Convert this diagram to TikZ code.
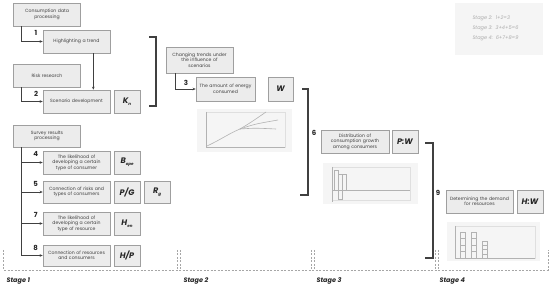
\documentclass[tikz,border=0pt]{standalone}
\usepackage{fontspec}
\setmainfont{Poppins}
\usetikzlibrary{positioning, arrows.meta}

\newcommand{\lsub}[1]{\raisebox{-1.6pt}{\fontsize{4}{4}\selectfont #1}}

\begin{document}
\begin{tikzpicture}[x=1pt, y=-1pt,
    box/.style={draw=gray!75, fill=gray!15, line width=0.6pt, inner sep=1pt, align=center,
        font=\fontsize{4.6}{5.5}\selectfont, text=black!75, minimum height=23pt},
    wbox/.style={box, minimum width=67pt, text width=63pt},
    lbox/.style={box, minimum width=26pt, font=\fontsize{8}{9}\selectfont\bfseries\itshape, text=black!85},
    numlab/.style={font=\fontsize{7}{8}\selectfont\bfseries, text=black!85},
    stagelab/.style={font=\fontsize{6.5}{7}\selectfont\bfseries\itshape, text=black!85, anchor=west},
    legtext/.style={font=\fontsize{5}{10}\selectfont\itshape, text=gray!65, anchor=west, align=left},
    arr/.style={-{Stealth[length=3pt,width=2.6pt]}, line width=0.6pt, draw=black!75},
    brk/.style={line width=1.1pt, draw=black!75},
    panel/.style={fill=gray!8, draw=none},
    plotline/.style={draw=gray!60, line width=0.5pt},
    stagebd/.style={draw=gray!70, line width=0.5pt, dash pattern=on 2pt off 1.5pt}
]
    \useasboundingbox (0,0) rectangle (550,286);

    % Legend
    \fill[panel] (455,3) rectangle (543,55);
    \node[legtext] (leg) at (469,28) {Stage 2:\ \ 1+2=3\\Stage 3:\ \ 3+4+5=6\\Stage 4:\ \ 6+7+8=9};

    % Stage 1
    \node[wbox] (cons) at (47,14.5) {Consumption data\\processing};
    \node[wbox] (trend) at (76.5,41.5) {Highlighting a trend};
    \node[wbox] (risk) at (47,75.5) {Risk research};
    \node[wbox] (scen) at (76.5,101.5) {Scenario development};
    \node[lbox] (kn) at (127,101.5) {K\lsub{n}};
    \draw[arr] ([xshift=8pt]cons.south west) |- (trend.west);
    \draw[arr] ([xshift=-17pt]trend.south east) -- ([xshift=-17pt]scen.north east);
    \draw[arr] ([xshift=8pt]risk.south west) |- (scen.west);
    \node[numlab] (n1) at (36,33) {1};
    \node[numlab] (n2) at (36,94) {2};

    \node[wbox, minimum height=22pt] (surv) at (47,136) {Survey results\\processing};
    \node[wbox] (like1) at (76.5,162.5) {The likelihood of\\developing a certain\\type of consumer};
    \node[lbox] (bope) at (127,162.5) {B\lsub{ope}};
    \node[wbox, minimum height=22pt] (risktype) at (76.5,192) {Connection of risks and\\types of consumers};
    \node[lbox, minimum height=22pt] (pg) at (127,192) {P/G};
    \node[lbox, minimum height=22pt] (rg) at (157,192) {R\lsub{g}};
    \node[wbox] (like2) at (76.5,223.5) {The likelihood of\\developing a certain\\type of resource};
    \node[lbox] (hen) at (127,223.5) {H\lsub{en}};
    \node[wbox, minimum height=21pt] (rescons) at (76.5,255.5) {Connection of resources\\and consumers};
    \node[lbox, minimum height=21pt] (hp) at (127,255.5) {H/P};

    \coordinate (trunk) at ([xshift=8pt]surv.south west);
    \draw[line width=0.6pt, black!75] (trunk) -- (trunk |- rescons.west);
    \foreach \b/\n in {like1/4, risktype/5, like2/7, rescons/8} {
        \draw[arr] (trunk |- \b.west) -- (\b.west);
        \node[numlab] (n\n) at ([xshift=-7pt, yshift=-3pt]\b.north west) {\n};
    }

    \draw[brk] (149,37) -- (156,37) -- (156,106) -- (149,106);

    % Stage 2
    \node[wbox, minimum height=26pt] (chg) at (199.5,60) {Changing trends under\\the influence of\\scenarios};
    \node[wbox, minimum width=59pt, text width=56pt, minimum height=24pt] (amt) at (225.5,89) {The amount of energy\\consumed};
    \node[lbox, minimum width=25pt, minimum height=24pt] (w) at (280.5,89) {W};
    \draw[arr] ([xshift=10pt]chg.south west) |- (amt.west);
    \node[numlab] (n3) at (186,83) {3};

    \fill[panel] (197,109) rectangle (292,152);
    \draw[gray!25, line width=0.4pt] (206,112) rectangle (285,147);
    \draw[plotline] (206,112) -- (206,147) -- (285,147);
    \draw[plotline, line width=0.6pt] (207,146) .. controls (220,140) and (230,133) .. (240,129);
    \draw[plotline, line width=0.6pt] (240,129) .. controls (250,123) .. (266,112);
    \draw[plotline, line width=0.6pt] (240,129) .. controls (255,124) .. (278,120);
    \draw[plotline, line width=0.6pt] (240,129) .. controls (255,128) .. (276,129);

    \draw[brk] (302,89) -- (308,89) -- (308,195) -- (300,195);
    \node[numlab] (n6) at (314,133) {6};

    % Stage 3
    \node[wbox, minimum width=68pt, text width=64pt] (dist) at (355,141.5) {Distribution of\\consumption growth\\among consumers};
    \node[lbox] (pw) at (405,141.5) {P:W};

    \fill[panel] (323,163) rectangle (418,204);
    \draw[gray!25, line width=0.4pt] (332,167) rectangle (410,200);
    \draw[plotline] (332,167) -- (332,202);
    \draw[plotline] (332,190) -- (410,190);
    \draw[plotline, line width=0.4pt] (334,170) rectangle (338,190);
    \draw[plotline, line width=0.4pt] (338,174) rectangle (342,199);
    \draw[plotline, line width=0.4pt] (342,174) rectangle (346,190);

    \draw[brk] (425,143) -- (433,143) -- (433,258) -- (425,258);
    \node[numlab] (n9) at (438,193) {9};

    % Stage 4
    \node[wbox] (dem) at (479.5,201.5) {Determining the demand\\for resources};
    \node[lbox] (hw) at (530,201.5) {H:W};

    \fill[panel] (447,222) rectangle (540,261);
    \draw[gray!25, line width=0.4pt] (455,226) rectangle (535,258);
    \draw[plotline] (455,226) -- (455,258) -- (535,258);
    \foreach \x/\t in {460/232, 471/232, 482/241} {
        \draw[plotline, line width=0.4pt] (\x,\t) rectangle (\x+5,258);
        \foreach \s in {1,2,3} {
            \draw[plotline, line width=0.4pt] (\x,{\t+\s*(258-\t)/4}) -- (\x+5,{\t+\s*(258-\t)/4});
        }
    }

    % Stages
    \draw[stagebd] (3,250) -- (3,270) -- (548,270) -- (548,250);
    \foreach \x in {177,180,311,314,435,438} {
        \draw[stagebd] (\x,250) -- (\x,270);
    }
    \node[stagelab] (st1) at (3,281) {Stage 1};
    \node[stagelab] (st2) at (180,281) {Stage 2};
    \node[stagelab] (st3) at (313,281) {Stage 3};
    \node[stagelab] (st4) at (436,281) {Stage 4};
\end{tikzpicture}
\end{document}
